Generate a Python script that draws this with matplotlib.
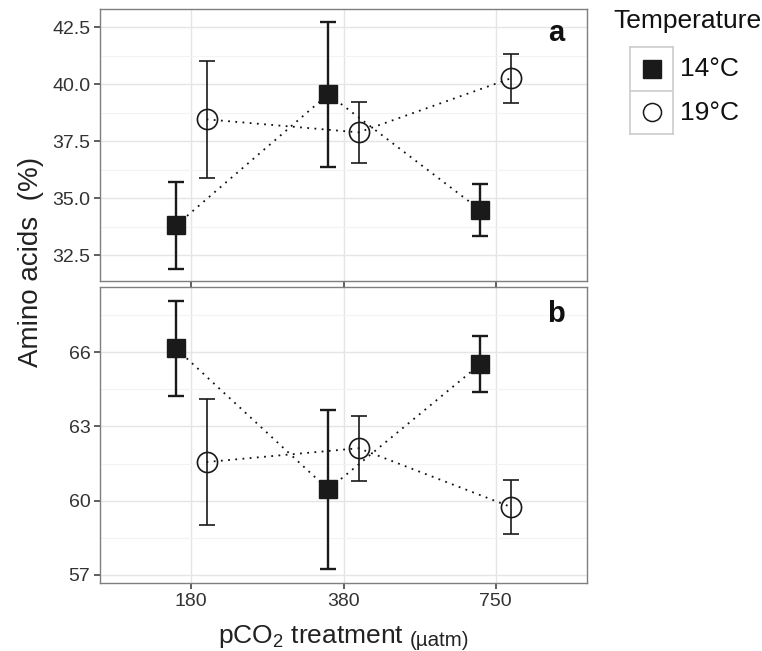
import matplotlib
matplotlib.use('Agg')
import numpy as np
import matplotlib.pyplot as plt
from matplotlib.ticker import FixedLocator

plt.rcParams['font.family'] = ['Liberation Sans', 'DejaVu Sans']
plt.rcParams['mathtext.fontset'] = 'custom'
plt.rcParams['mathtext.rm'] = 'Liberation Sans'

# pCO2 treatments and temperature groups
pco2_levels = ['180', '380', '750']
temps = ['14°C', '19°C']

# panel a: amino acids (%) mean and error
aa_a_14 = [33.8, 39.55, 34.47]
err_a_14 = [1.92, 3.18, 1.14]
aa_a_19 = [38.45, 37.88, 40.25]
err_a_19 = [2.56, 1.33, 1.07]

# panel b
aa_b_14 = [66.16, 60.45, 65.53]
err_b_14 = [1.92, 3.23, 1.13]
aa_b_19 = [61.56, 62.12, 59.74]
err_b_19 = [2.57, 1.32, 1.08]

panels = [
    ('a', aa_a_14, err_a_14, aa_a_19, err_a_19,
     [32.5, 35.0, 37.5, 40.0, 42.5], (31.36, 43.29)),
    ('b', aa_b_14, err_b_14, aa_b_19, err_b_19,
     [57, 60, 63, 66], (56.66, 68.65)),
]

W, H = 762, 651
fig = plt.figure(figsize=(W / 100, H / 100), dpi=100)

boxes = [(100, 9, 587, 281), (100, 287, 587, 583)]
dodge = 0.1
x = np.arange(1, len(pco2_levels) + 1)

border = '#7f7f7f'
txt = '#333333'

axes = []
for (l, t, r, b), (tag, m14, e14, m19, e19, yt, ylim) in zip(boxes, panels):
    ax = fig.add_axes([l / W, 1 - b / H, (r - l) / W, (b - t) / H])
    axes.append(ax)

    # grid like theme_bw
    step = yt[1] - yt[0]
    minor = [v + step / 2 for v in [yt[0] - step] + yt]
    ax.yaxis.set_minor_locator(FixedLocator(minor))
    ax.set_yticks(yt)
    ax.grid(True, which='major', color='#e5e5e5', lw=1.0, zorder=0)
    ax.grid(True, which='minor', axis='y', color='#f3f3f3', lw=0.8, zorder=0)
    ax.tick_params(which='minor', length=0)
    ax.set_axisbelow(True)

    # 14 C: filled squares
    ax.plot(x - dodge, m14, ls=(0, (1, 3)), color='#111111', lw=1.3, zorder=2)
    ax.errorbar(x - dodge, m14, yerr=e14, fmt='none', ecolor='#1a1a1a',
                elinewidth=1.7, capsize=5.5, capthick=1.7, zorder=3)
    ax.plot(x - dodge, m14, ls='none', marker='s', ms=13.5, mfc='#1a1a1a',
            mec='#1a1a1a', zorder=4)

    # 19 C: open circles
    ax.plot(x + dodge, m19, ls=(0, (1, 3)), color='#111111', lw=1.3, zorder=2)
    ax.errorbar(x + dodge, m19, yerr=e19, fmt='none', ecolor='#1a1a1a',
                elinewidth=1.2, capsize=5.5, capthick=1.2, zorder=3)
    ax.plot(x + dodge, m19, ls='none', marker='o', ms=14.5, mfc='none',
            mec='#1a1a1a', mew=1.2, zorder=4)

    ax.set_xlim(0.4, 3.6)
    ax.set_ylim(*ylim)
    ax.set_xticks(x)
    ax.set_xticklabels(pco2_levels)
    ax.tick_params(axis='both', which='major', length=4, width=1.1,
                   color=txt, labelcolor=txt, labelsize=14, pad=3)
    for s in ax.spines.values():
        s.set_color(border)
        s.set_linewidth(1.0)
    ax.text(0.937, 0.91, tag, transform=ax.transAxes, fontsize=21,
            fontweight='bold', ha='center', va='center', color='#111111')

axes[0].tick_params(labelbottom=False)

# axis titles
fig.text(31 / W, 1 - 262 / H, 'Amino acids  (%)', rotation=90, fontsize=20,
         ha='center', va='center', color='#222222')
xl = fig.text(311 / W, 1 - 643 / H, r'pCO$\mathregular{_2}$ treatment',
              fontsize=19, ha='center', va='baseline', color='#222222')
axes[1].annotate('(µatm)', xy=(1, 0), xycoords=xl, xytext=(4, 0),
                 textcoords='offset points', fontsize=14.8, ha='left',
                 va='bottom', color='#222222')

# legend drawn as ggplot-style keys
fig.text(613 / W, 1 - 21 / H, 'Temperature', fontsize=19, ha='left',
         va='center', color='#111111')
kx0, ky0, kw, kh = 630, 47, 43, 87
lax = fig.add_axes([kx0 / W, 1 - (ky0 + kh) / H, kw / W, kh / H])
lax.set_xlim(0, 1)
lax.set_ylim(0, len(temps))
lax.axhline(1, color='#cccccc', lw=1.2)
lax.plot([0.5], [1.5], marker='s', ms=13, mfc='#1a1a1a', mec='#1a1a1a')
lax.plot([0.5], [0.5], marker='o', ms=13, mfc='none', mec='#1a1a1a', mew=1.1)
lax.set_xticks([])
lax.set_yticks([])
for s in lax.spines.values():
    s.set_color('#cccccc')
    s.set_linewidth(1.2)
for i, lab in enumerate(temps):
    fig.text(680 / W, 1 - (69 + 44 * i) / H, lab, fontsize=19, ha='left',
             va='center', color='#111111')

fig.savefig('out.png', dpi=100)
